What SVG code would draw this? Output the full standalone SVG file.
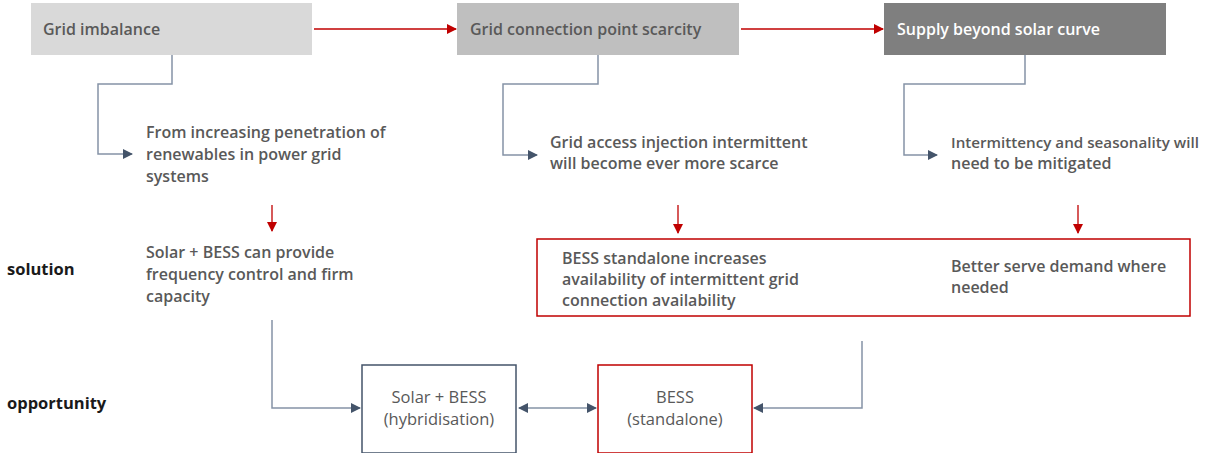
<svg xmlns="http://www.w3.org/2000/svg" width="1207" height="453" viewBox="0 0 1207 453">
<defs>
<marker id="ar" viewBox="0 0 10 10" refX="9" refY="5" markerWidth="10" markerHeight="10" markerUnits="userSpaceOnUse" orient="auto-start-reverse"><path d="M0,0 L10,5 L0,10 z" fill="#c00000"/></marker>
<marker id="ab" viewBox="0 0 10 10" refX="9" refY="5" markerWidth="10" markerHeight="10" markerUnits="userSpaceOnUse" orient="auto-start-reverse"><path d="M0,0 L10,5 L0,10 z" fill="#44546a"/></marker>
<style>
text{font-family:"Open Sans","Noto Sans",sans-serif;font-size:16px;fill:#595959;font-weight:600}
.w{fill:#ffffff}
.k{fill:#1a1a1a;font-size:16.5px;font-weight:700}
.c{text-anchor:middle;font-weight:400;font-size:16.5px}
.r{stroke:#c00000;stroke-width:1.3;fill:none}
.b{stroke:#8593a6;stroke-width:1.5;fill:none}
</style>
</defs>
<rect width="1207" height="453" fill="#ffffff"/>
<g id="n1"><rect x="31" y="3" width="281" height="52" fill="#d9d9d9"/><text x="43" y="35">Grid imbalance</text></g>
<g id="n2"><rect x="457" y="3" width="282" height="52" fill="#bfbfbf"/><text x="470" y="35">Grid connection point scarcity</text></g>
<g id="n3"><rect x="884" y="3" width="282" height="52" fill="#7f7f7f"/><text class="w" x="897" y="35">Supply beyond solar curve</text></g>
<g id="t1"><text x="146" y="138">From increasing penetration of</text><text x="146" y="160">renewables in power grid</text><text x="146" y="182">systems</text></g>
<g id="t2"><text x="550" y="148">Grid access injection intermittent</text><text x="550" y="169">will become ever more scarce</text></g>
<g id="t3"><text x="951" y="148" style="font-size:15.2px">Intermittency and seasonality will</text><text x="951" y="169">need to be mitigated</text></g>
<g id="lab1"><text class="k" x="7" y="275">solution</text></g>
<g id="lab2"><text class="k" x="7" y="409">opportunity</text></g>
<g id="s1"><text x="146" y="258">Solar + BESS can provide</text><text x="146" y="280">frequency control and firm</text><text x="146" y="302">capacity</text></g>
<g id="s2"><rect x="537" y="239" width="653" height="77" fill="none" stroke="#c00000" stroke-width="1.5"/><text x="562" y="264">BESS standalone increases</text><text x="562" y="285">availability of intermittent grid</text><text x="562" y="306">connection availability</text><text x="951" y="272">Better serve demand where</text><text x="951" y="293">needed</text></g>
<g id="o1"><rect x="362" y="365" width="154" height="88" fill="#ffffff" stroke="#44546a" stroke-width="1.5"/><text class="c" x="439" y="403">Solar + BESS</text><text class="c" x="439" y="425">(hybridisation)</text></g>
<g id="o2"><rect x="598" y="365" width="154" height="88" fill="#ffffff" stroke="#c00000" stroke-width="1.5"/><text class="c" x="675" y="403">BESS</text><text class="c" x="675" y="425">(standalone)</text></g>
<g id="connectors">
<path class="r" d="M314,29 H456" marker-end="url(#ar)"/>
<path class="r" d="M741,29 H883" marker-end="url(#ar)"/>
<path class="b" d="M172,55 V84 H98 V154 H132" marker-end="url(#ab)"/>
<path class="b" d="M598,55 V84 H503 V155 H537" marker-end="url(#ab)"/>
<path class="b" d="M1025,55 V84 H904 V155 H937" marker-end="url(#ab)"/>
<path class="r" d="M272,205 V231" marker-end="url(#ar)"/>
<path class="r" d="M678,205 V233" marker-end="url(#ar)"/>
<path class="r" d="M1078,205 V233" marker-end="url(#ar)"/>
<path class="b" d="M272,320 V408 H360" marker-end="url(#ab)"/>
<path class="b" d="M862,341 V408 H754" marker-end="url(#ab)"/>
<path class="b" d="M519,408 H596" marker-start="url(#ab)" marker-end="url(#ab)"/>
</g>
</svg>
